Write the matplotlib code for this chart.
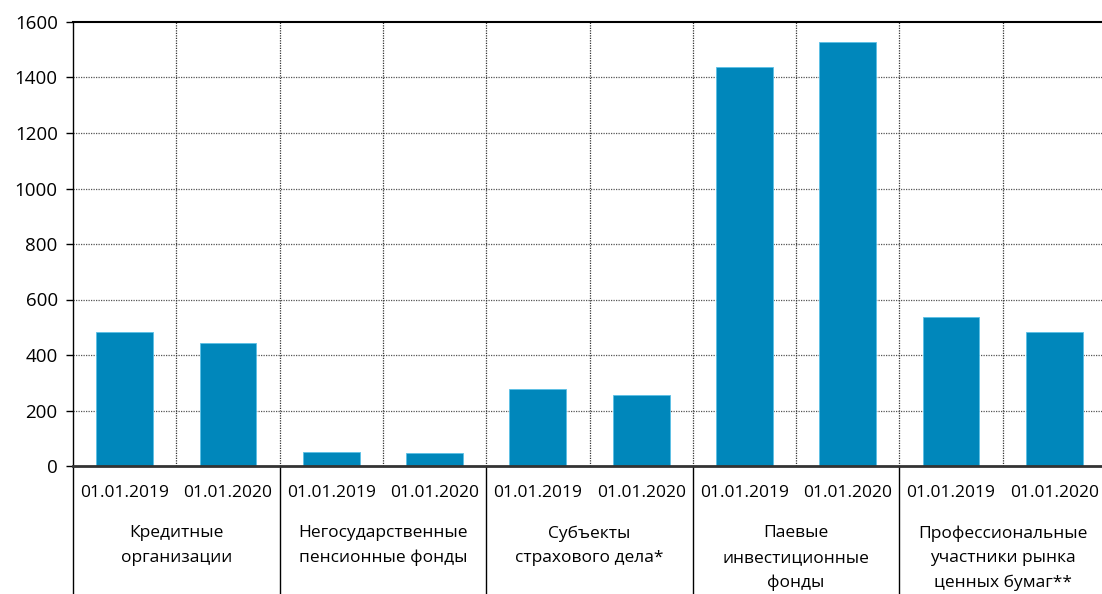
import matplotlib
matplotlib.use("Agg")
import matplotlib.pyplot as plt
import numpy as np

plt.rcParams['font.family'] = ['Open Sans', 'DejaVu Sans']

groups = ["Кредитные\nорганизации",
          "Негосударственные\nпенсионные фонды",
          "Субъекты\nстрахового дела*",
          "Паевые\nинвестиционные\nфонды",
          "Профессиональные\nучастники рынка\nценных бумаг**"]
dates = ["01.01.2019", "01.01.2020"]
values_2019 = [484, 51, 276, 1438, 537]
values_2020 = [442, 47, 256, 1528, 484]
yticks = [0, 200, 400, 600, 800, 1000, 1200, 1400, 1600]

W, H = 1102, 594
fig = plt.figure(figsize=(W / 100, H / 100), dpi=100)
x0, y0, y1 = 73, 466, 22
slot = 103.3
ax = fig.add_axes([x0 / W, (H - y0) / H, slot * 10 / W, (y0 - y1) / H])

vals = []
labels = []
for a, b in zip(values_2019, values_2020):
    vals += [a, b]
    labels += dates
xs = np.arange(len(vals))
color = "#0087BB"
ax.bar(xs, vals, width=0.55, color=color, edgecolor="#5BC0E6", linewidth=0.6, zorder=3)

ax.set_xlim(-0.5, len(vals) - 0.5)
ax.set_ylim(0, 1600)
ax.set_yticks(yticks)
ax.set_yticklabels([str(v) for v in yticks], fontsize=13.5)
ax.tick_params(axis='y', length=5, width=1, color='black', pad=6)
ax.set_xticks(xs)
ax.set_xticklabels(labels, fontsize=12.5)
ax.tick_params(axis='x', length=0, pad=14)

# horizontal grid
for v in yticks[1:-1]:
    ax.axhline(v, color="#555555", linestyle=(0, (1, 1)), linewidth=0.9, zorder=1)
# vertical dotted separators
for k in range(1, len(vals)):
    ax.axvline(k - 0.5, color="#333333", linestyle=(0, (1, 1)), linewidth=0.9, zorder=1)

ax.spines['right'].set_visible(False)
ax.spines['top'].set_color('black')
ax.spines['top'].set_linewidth(1.5)
ax.spines['left'].set_color('black')
ax.spines['left'].set_linewidth(1.0)
ax.spines['bottom'].set_color('#333333')
ax.spines['bottom'].set_linewidth(2.0)
ax.spines['bottom'].set_zorder(4)

# lines below the axis (left spine extension and group separators)
trans = ax.get_xaxis_transform()
for k in range(0, len(vals) + 1, 2):
    ax.plot([k - 0.5, k - 0.5], [0, -0.5], transform=trans, color="black",
            linewidth=1.0, clip_on=False)

# group labels
for g, name in enumerate(groups):
    ax.text(2 * g + 0.5, -0.134, name, transform=trans, ha='center', va='top',
            fontsize=12.5, linespacing=1.68)

fig.savefig("out.png", dpi=100)
